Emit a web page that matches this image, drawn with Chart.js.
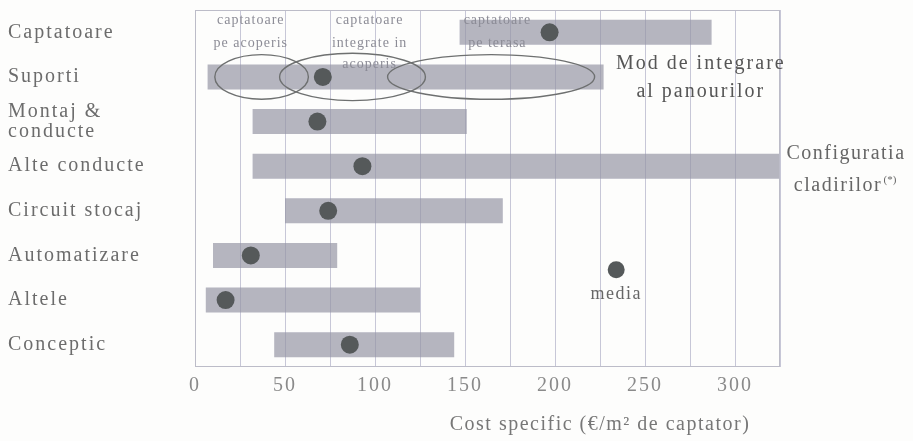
<!DOCTYPE html>
<html>
<head>
<meta charset="utf-8">
<title>Cost specific</title>
<script src="https://cdn.jsdelivr.net/npm/chart.js@4/dist/chart.umd.min.js"></script>
<style>
  html, body { margin: 0; padding: 0; background: #fdfdfc; }
  #wrap { width: 913px; height: 441px; position: relative; }
</style>
</head>
<body>
<div id="wrap"><canvas id="costChart"></canvas></div>
<script>
// categories, top to bottom
const categories = ['Captatoare', 'Suporti', ['Montaj &', 'conducte'], 'Alte conducte',
                    'Circuit stocaj', 'Automatizare', 'Altele', 'Conceptic'];
// cost range per category (€/m2 de captator)
const costMin   = [147, 7, 32, 32, 50, 10, 6, 44];
const costMax   = [287, 227, 151, 330, 171, 79, 125, 144];
const costMedia = [197, 71, 68, 93, 74, 31, 17, 86];

const xTicks = [0, 50, 100, 150, 200, 250, 300];
const axisTitle = 'Cost specific (\u20AC/m\u00B2 de captator)';

// ellipses around "Suporti" (mod de integrare), in axis units
const ellipseFrom = [11, 47, 107];
const ellipseTo   = [63, 128, 222];
const integrareLabels = [
  ['captatoare', 'pe acoperis'],
  ['captatoare', 'integrate in', 'acoperis'],
  ['captatoare', 'pe terasa']
];
const integrareAt = [31, 97, 168];

const SERIF = '"Liberation Serif", "Times New Roman", serif';

function drawText(ctx, txt, x, y, size, color, align, spacing) {
  ctx.save();
  ctx.font = size + 'px ' + SERIF;
  ctx.fillStyle = color;
  ctx.textAlign = align || 'center';
  ctx.textBaseline = 'middle';
  ctx.letterSpacing = (spacing || 0) + 'px';
  ctx.fillText(txt, x, y);
  ctx.restore();
}

// frame, ellipses and the text notes on the picture
const notesPlugin = {
  id: 'notes',
  beforeDraw(chart) {
    chart.ctx.letterSpacing = '2px';
  },
  afterDatasetsDraw(chart) {
    const ctx = chart.ctx;
    const x = chart.scales.x, y = chart.scales.y;
    const area = chart.chartArea;
    const row = (y.getPixelForValue(1) - y.getPixelForValue(0));

    ctx.save();
    ctx.strokeStyle = '#bcbcc8';
    ctx.lineWidth = 1;
    ctx.strokeRect(area.left + 0.5, area.top + 0.5, area.width - 1, area.height - 1);

    // ellipses on row "Suporti"
    ctx.strokeStyle = '#6e7070';
    ctx.lineWidth = 1.4;
    const cy = y.getPixelForValue(1);
    for (let i = 0; i < ellipseFrom.length; i++) {
      const x0 = x.getPixelForValue(ellipseFrom[i]);
      const x1 = x.getPixelForValue(ellipseTo[i]);
      const ry = i === 1 ? row * 0.53 : row * 0.5;
      ctx.beginPath();
      ctx.ellipse((x0 + x1) / 2, cy, (x1 - x0) / 2, ry, 0, 0, Math.PI * 2);
      ctx.stroke();
    }
    ctx.restore();

    // small labels above the ellipses
    const lineRows = [-0.27, 0.25, 0.71];
    integrareLabels.forEach((lines, i) => {
      lines.forEach((t, j) => {
        drawText(ctx, t, x.getPixelForValue(integrareAt[i]), y.getPixelForValue(lineRows[j]),
                 14, '#8c8c96', 'center', 1);
      });
    });

    drawText(ctx, 'Mod de integrare', x.getPixelForValue(281), y.getPixelForValue(0.71), 20, '#555', 'center', 2);
    drawText(ctx, 'al panourilor', x.getPixelForValue(281), y.getPixelForValue(1.33), 20, '#555', 'center', 2);

    const cx = area.right + 66;
    drawText(ctx, 'Configuratia', cx, y.getPixelForValue(2.73), 20, '#666', 'center', 1.5);
    drawText(ctx, 'cladirilor', cx - 8, y.getPixelForValue(3.44), 20, '#666', 'center', 1.5);
    drawText(ctx, '(*)', cx + 44, y.getPixelForValue(3.44) - 6, 11, '#666', 'center', 0);

    // key for the mean marker
    const kx = x.getPixelForValue(234);
    const ky = y.getPixelForValue(5.32);
    ctx.save();
    ctx.fillStyle = '#55595a';
    ctx.beginPath();
    ctx.arc(kx, ky, 8.5, 0, Math.PI * 2);
    ctx.fill();
    ctx.restore();
    drawText(ctx, 'media', kx, ky + 25, 18, '#666', 'center', 1.5);

    // axis title
    drawText(ctx, axisTitle, x.getPixelForValue(225), area.bottom + 58, 20, '#777', 'center', 1.5);
  }
};

function initChart() {
  const ctx = document.getElementById('costChart').getContext('2d');
  new Chart(ctx, {
    type: 'bar',
    data: {
      labels: categories,
      datasets: [{
        type: 'line',
        label: 'media',
        indexAxis: 'y',
        data: costMedia,
        showLine: false,
        pointRadius: 9,
        pointBackgroundColor: '#55595a',
        pointBorderWidth: 0,
        order: 0
      }, {
        label: 'cost',
        indexAxis: 'y',
        data: costMin.map((v, i) => [v, costMax[i]]),
        backgroundColor: 'rgba(150, 150, 165, 0.7)',
        borderWidth: 0,
        borderSkipped: false,
        barPercentage: 0.56,
        categoryPercentage: 1,
        order: 1
      }]
    },
    options: {
      indexAxis: 'y',
      responsive: true,
      maintainAspectRatio: false,
      animation: false,
      layout: { padding: { left: 8, top: 7, right: 133, bottom: 0 } },
      plugins: {
        legend: { display: false },
        tooltip: { enabled: false }
      },
      scales: {
        x: {
          type: 'linear',
          min: 0,
          max: 325,
          afterFit: (scale) => { scale.height = 74; },
          afterBuildTicks: (scale) => {
            scale.ticks = [];
            for (let v = 0; v <= 325; v += 25) scale.ticks.push({ value: v });
          },
          grid: { color: 'rgba(185, 185, 205, 0.8)', lineWidth: 1, drawTicks: false },
          border: { display: false },
          ticks: {
            autoSkip: false,
            maxRotation: 0,
            padding: 7,
            color: '#8a8a8a',
            font: { family: SERIF, size: 20 },
            callback: (v) => xTicks.includes(v) ? String(v) : ''
          }
        },
        y: {
          type: 'category',
          offset: true,
          afterFit: (scale) => { scale.width = 187; },
          grid: { display: false, drawTicks: false },
          border: { display: false },
          ticks: {
            crossAlign: 'far',
            padding: 0,
            color: '#6c6c6c',
            font: { family: SERIF, size: 20, lineHeight: 1.0 }
          }
        }
      }
    },
    plugins: [notesPlugin]
  });
}

window.onload = () => {
  initChart();
};
</script>
</body>
</html>
